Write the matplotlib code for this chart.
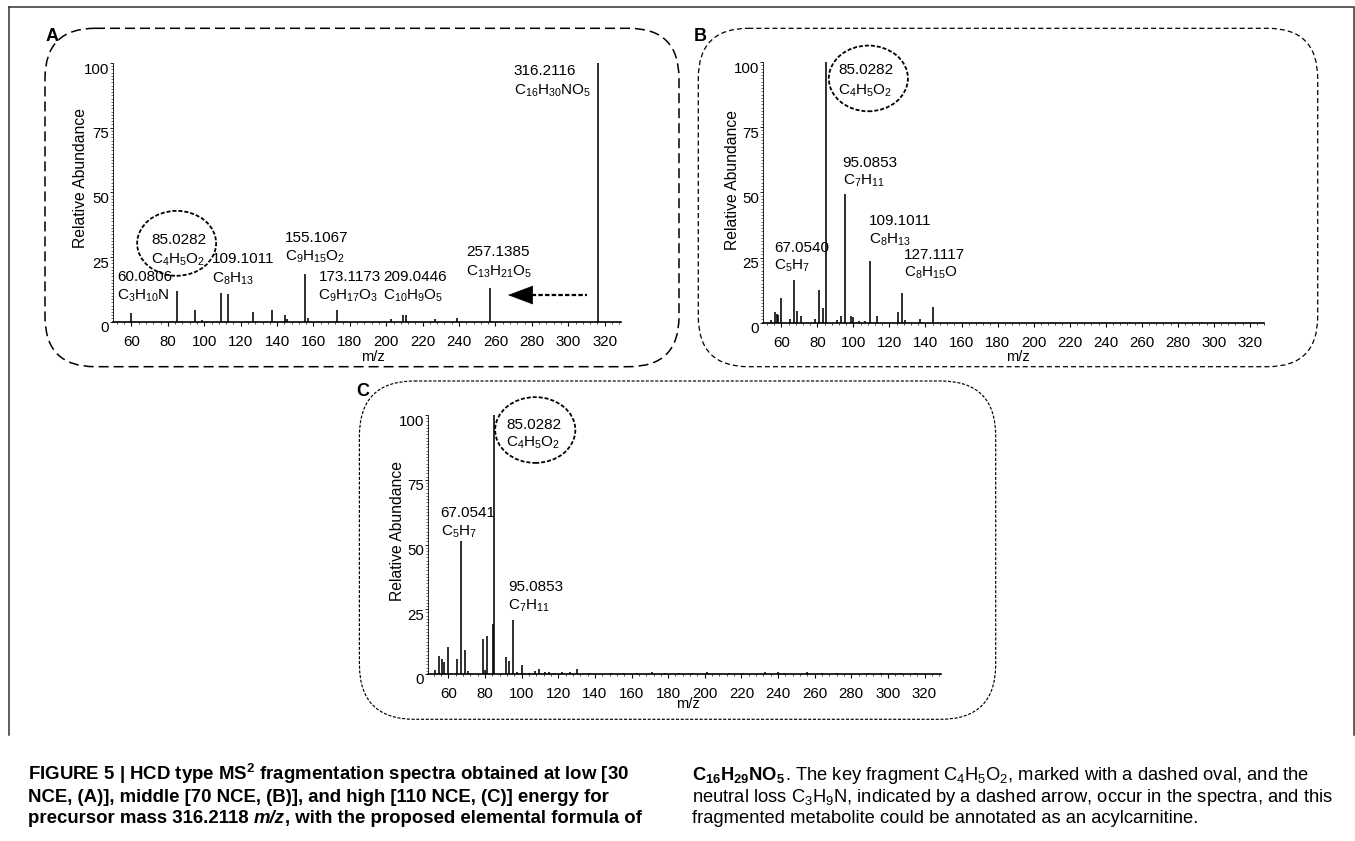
import matplotlib
matplotlib.use('Agg')
import matplotlib.pyplot as plt
from matplotlib.patches import FancyBboxPatch, Ellipse
from matplotlib.ticker import MultipleLocator, FixedLocator
import matplotlib.transforms as mtransforms

plt.rcParams['font.family'] = ['Liberation Sans', 'DejaVu Sans']
plt.rcParams['mathtext.fontset'] = 'custom'
plt.rcParams['mathtext.rm'] = 'Liberation Sans'
plt.rcParams['mathtext.it'] = 'Liberation Sans:italic'
plt.rcParams['mathtext.bf'] = 'Liberation Sans:bold'
plt.rcParams['mathtext.default'] = 'regular'
plt.rcParams['lines.scale_dashes'] = False

# ---------------- data ----------------
x_ticks = [60, 80, 100, 120, 140, 160, 180, 200, 220, 240, 260, 280, 300, 320]
y_ticks = [0, 25, 50, 75, 100]

# Panel A (30 NCE)
mz_A = [60.0, 85.0, 95.0, 99.0, 109.1, 112.9, 127.0, 137.1, 144.2, 145.2, 155.1,
        156.8, 173.1, 202.8, 209.0, 210.6, 226.6, 238.8, 257.1, 316.2]
int_A = [3.5, 11.7, 4.6, 0.7, 11.1, 10.7, 3.9, 4.6, 2.5, 1.2, 18.3,
         1.3, 4.6, 1.2, 2.5, 2.5, 0.9, 1.3, 13.1, 100.0]

# Panel B (70 NCE)
mz_B = [54.5, 56.5, 57.4, 58.3, 59.8, 64.8, 67.1, 68.9, 70.7, 78.9, 81.1, 83.4,
        85.0, 91.1, 92.9, 95.1, 98.8, 99.6, 102.9, 106.7, 109.1, 112.9, 124.9,
        127.1, 128.8, 137.2, 144.1]
int_B = [1.0, 4.2, 3.2, 3.0, 9.6, 1.3, 16.5, 4.5, 2.6, 1.5, 12.6, 5.6,
         100.0, 1.2, 2.6, 49.5, 2.6, 2.0, 0.8, 0.5, 23.7, 2.7, 4.2,
         11.3, 1.0, 1.3, 5.9]

# Panel C (110 NCE)
mz_C = [52.8, 54.6, 56.5, 57.4, 60.0, 64.6, 67.1, 69.1, 70.9, 79.1, 80.0, 81.3,
        84.3, 85.0, 91.3, 93.3, 95.1, 97.2, 100.2, 104.0, 107.0, 109.6, 113.0,
        115.0, 118.0, 122.0, 126.3, 130.2, 137.0, 149.0, 156.0, 163.0, 171.0,
        178.0, 186.0, 193.0, 201.0, 213.0, 221.0, 233.0, 240.0, 243.0, 256.0,
        264.0, 272.0, 289.0, 296.0, 307.0, 315.0]
int_C = [1.4, 6.9, 5.6, 4.5, 10.5, 5.6, 51.5, 9.1, 1.3, 13.4, 1.7, 14.7,
         19.2, 100.0, 6.5, 5.2, 21.0, 0.8, 3.6, 0.4, 1.0, 2.1, 0.6,
         0.6, 0.5, 0.7, 0.6, 2.1, 0.4, 0.5, 0.4, 0.5, 0.6,
         0.4, 0.5, 0.4, 0.6, 0.4, 0.5, 0.6, 0.7, 0.5, 0.6,
         0.4, 0.5, 0.5, 0.4, 0.4, 0.5]

# annotation texts
mass_A = ["316.2116", "85.0282", "109.1011", "60.0806", "155.1067", "173.1173",
          "209.0446", "257.1385"]
form_A = ["C$_{16}$H$_{30}$NO$_5$", "C$_4$H$_5$O$_2$", "C$_8$H$_{13}$",
          "C$_3$H$_{10}$N", "C$_9$H$_{15}$O$_2$", "C$_9$H$_{17}$O$_3$",
          "C$_{10}$H$_9$O$_5$", "C$_{13}$H$_{21}$O$_5$"]
mass_B = ["85.0282", "95.0853", "109.1011", "127.1117", "67.0540"]
form_B = ["C$_4$H$_5$O$_2$", "C$_7$H$_{11}$", "C$_8$H$_{13}$", "C$_8$H$_{15}$O",
          "C$_5$H$_7$"]
mass_C = ["85.0282", "67.0541", "95.0853"]
form_C = ["C$_4$H$_5$O$_2$", "C$_5$H$_7$", "C$_7$H$_{11}$"]

# annotation anchor positions (data coords: x, y of mass line, y of formula line)
pos_A = [(270, 97.3, 90.2), (70.9, 32.2, 24.7), (104.2, 24.7, 17.4),
         (52.1, 17.7, 11.0), (144.2, 32.9, 25.8), (162.7, 17.7, 11.0),
         (198.2, 17.7, 11.0), (243.8, 27.5, 20.0)]
pos_B = [(91.7, 97.6, 89.9), (94.0, 62.0, 55.4), (108.7, 39.4, 32.8),
         (128.2, 26.4, 20.0), (56.0, 29.4, 22.8)]
pos_C = [(91.5, 96.9, 90.0), (55.7, 62.7, 55.9), (92.6, 34.0, 27.3)]

# caption
cap_left = [
    [("FIGURE 5 | HCD type MS$^2$ fragmentation spectra obtained at low [30", 'b', False)],
    [("NCE, (A)], middle [70 NCE, (B)], and high [110 NCE, (C)] energy for", 'b', False)],
    [("precursor mass 316.2118", 'b', True), ("m/z", 'bi', False),
     (", with the proposed elemental formula of", 'b', False)],
]
cap_right = [
    [("C$_{16}$H$_{29}$NO$_5$", 'b', False),
     (". The key fragment C$_4$H$_5$O$_2$, marked with a dashed oval, and the", 'r', False)],
    [("neutral loss C$_3$H$_9$N, indicated by a dashed arrow, occur in the spectra, and this", 'r', False)],
    [("fragmented metabolite could be annotated as an acylcarnitine.", 'r', False)],
]

# ---------------- figure ----------------
W, H = 1355, 841
fig = plt.figure(figsize=(W / 100, H / 100), dpi=100)

overlay = fig.add_axes([0, 0, 1, 1])
overlay.set_xlim(0, W)
overlay.set_ylim(H, 0)
overlay.axis('off')


def px_axes(left, top, right, bottom):
    return fig.add_axes([left / W, 1 - bottom / H, (right - left) / W, (bottom - top) / H])


label_shift = mtransforms.ScaledTranslation(0, -5 / 100, fig.dpi_scale_trans)


def draw_spectrum(ax, mz, inten, xlim, ylab_xy, xlab_xy):
    ax.set_facecolor('none')
    ax.vlines(mz, 0, inten, colors='black', lw=1.15)
    ax.set_xlim(*xlim)
    ax.set_ylim(0, 100)
    ax.spines['top'].set_visible(False)
    ax.spines['right'].set_visible(False)
    ax.spines['bottom'].set_linewidth(1.2)
    ax.spines['left'].set_linewidth(0.6)
    ax.xaxis.set_major_locator(FixedLocator(x_ticks))
    ax.xaxis.set_minor_locator(MultipleLocator(4))
    ax.yaxis.set_major_locator(FixedLocator(y_ticks))
    ax.yaxis.set_minor_locator(MultipleLocator(1.25))
    ax.tick_params(axis='x', which='major', length=3, width=0.8, pad=6.5, labelsize=10.8)
    ax.tick_params(axis='x', which='minor', length=1.6, width=0.5)
    ax.tick_params(axis='y', which='major', length=2.2, width=0.6, pad=1, labelsize=10.8)
    ax.tick_params(axis='y', which='minor', length=1.4, width=0.4)
    for lbl in ax.get_yticklabels():
        lbl.set_transform(lbl.get_transform() + label_shift)
    ax.set_ylabel('Relative Abundance', fontsize=11.3, va='center')
    ax.yaxis.set_label_coords(*ylab_xy)
    ax.set_xlabel('m/z', fontsize=10.5, va='center')
    ax.xaxis.set_label_coords(*xlab_xy)


def annotate(ax, masses, forms, pos):
    for m, f, (x, y1, y2) in zip(masses, forms, pos):
        ax.text(x, y1, m, fontsize=11, ha='left', va='center_baseline', clip_on=False)
        ax.text(x, y2, f, fontsize=11, ha='left', va='center_baseline', clip_on=False)


def oval(ax, cx, cy, w, h):
    ax.add_patch(Ellipse((cx, cy), w, h, fill=False, ec='black', lw=1.3,
                         ls=(0, (2.9, 1.4)), clip_on=False))


# Panel A
axA = px_axes(113.3, 63, 621, 321.7)
draw_spectrum(axA, mz_A, int_A, (50, 329), (-0.0646, 0.555), (0.5115, -0.135))
annotate(axA, mass_A, form_A, pos_A)
oval(axA, 84.8, 30.3, 43.4, 25.1)
axA.plot([276.5, 310.2], [10.3, 10.3], color='black', lw=1.6, ls=(0, (3.2, 1.6)),
         solid_capstyle='butt', clip_on=False)
axA.annotate('', xy=(266.9, 10.3), xytext=(277.0, 10.3),
             arrowprops=dict(arrowstyle='-|>,head_length=0.85,head_width=0.32',
                             color='black', lw=0.5, mutation_scale=20,
                             shrinkA=0, shrinkB=0))

# Panel B
axB = px_axes(763.3, 62, 1264.3, 322.7)
draw_spectrum(axB, mz_B, int_B, (50, 328), (-0.061, 0.547), (0.508, -0.130))
annotate(axB, mass_B, form_B, pos_B)
oval(axB, 108.3, 93.7, 43.9, 25.2)

# Panel C
axC = px_axes(428.3, 415, 941, 674)
draw_spectrum(axC, mz_C, int_C, (49, 329), (-0.060, 0.553), (0.506, -0.116))
annotate(axC, mass_C, form_C, pos_C)
oval(axC, 107.4, 94.2, 43.8, 25.4)

# ---------------- frames ----------------
def rbox(x0, y0, x1, y1, r, lw, dash):
    overlay.add_patch(FancyBboxPatch((x0, y0), x1 - x0, y1 - y0,
                                     boxstyle=f"round,pad=0,rounding_size={r}",
                                     fill=False, ec='black', lw=lw, ls=(0, dash)))

rbox(45, 28.3, 679, 366.7, 50, 1.1, (7.2, 3.6))
rbox(698.3, 28.3, 1317.7, 366.7, 50, 0.9, (3.6, 2.2))
rbox(359.4, 381, 995.7, 719.3, 55, 0.85, (2.2, 1.2))

overlay.plot([9.3, 1354, 1354], [7, 7, 735], color='#333333', lw=1.1,
             solid_joinstyle='miter')
overlay.plot([9.3, 9.3], [7, 735], color='#333333', lw=1.1)

overlay.text(51.7, 36.7, 'A', fontsize=13, fontweight='bold', ha='center', va='center')
overlay.text(700.7, 36.7, 'B', fontsize=13, fontweight='bold', ha='center', va='center')
overlay.text(363, 391.7, 'C', fontsize=13, fontweight='bold', ha='center', va='center')

# ---------------- caption ----------------
renderer = fig.canvas.get_renderer()
cap_family = ['Liberation Sans Narrow', 'Liberation Sans', 'DejaVu Sans']
styles = {'b': dict(fontweight='bold'),
          'bi': dict(fontweight='bold', fontstyle='italic'),
          'r': dict(fontweight='normal')}


def measure(txt, st, fs):
    t = overlay.text(0, 100, txt, fontsize=fs, family=cap_family, **styles[st])
    w = t.get_window_extent(renderer=renderer).width
    t.remove()
    return w


def space_w(st, fs):
    return measure("x x", st, fs) - measure("xx", st, fs)


def line_width(runs, fs):
    tot = 0
    for txt, st, sp in runs:
        tot += measure(txt, st, fs)
        if sp:
            tot += space_w(st, fs)
    return tot


def draw_runs(x, y, runs, fs):
    for txt, st, sp in runs:
        overlay.text(x, y, txt, ha='left', va='baseline', fontsize=fs,
                     family=cap_family, **styles[st])
        x += measure(txt, st, fs)
        if sp:
            x += space_w(st, fs)


xl, xr = 28, 692
baselines = [780, 802, 823]
fs_l = 11 * (647 - xl) / line_width(cap_left[2], 11)
fs_r = 11 * (1332 - xr) / line_width(cap_right[1], 11)
for runs, yb in zip(cap_left, baselines):
    draw_runs(xl, yb, runs, fs_l)
for runs, yb in zip(cap_right, baselines):
    draw_runs(xr, yb, runs, fs_r)

fig.savefig('out.png', dpi=100)
